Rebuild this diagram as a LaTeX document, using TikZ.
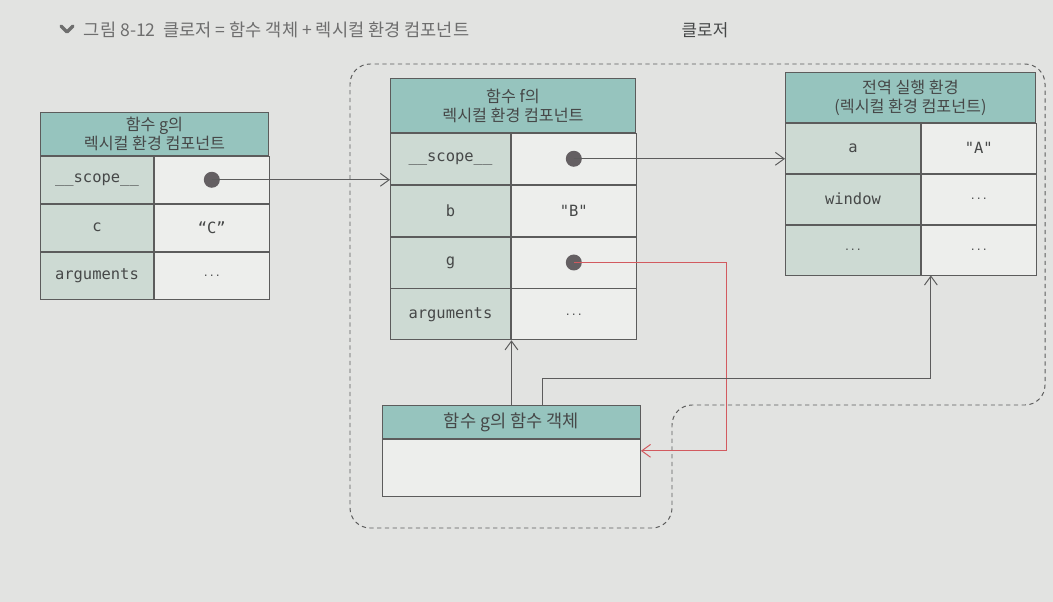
\documentclass[tikz,border=0pt]{standalone}
\usepackage{fontspec}
\usepackage{xcolor}
\usepackage{tikz}
\usetikzlibrary{arrows.meta,positioning,calc}
\setmainfont{Noto Sans CJK KR}
\newfontfamily\codefont{DejaVu Sans Mono}
\definecolor{ppaper}{RGB}{226,227,225}
\definecolor{phead}{RGB}{150,196,190}
\definecolor{pkey}{RGB}{205,218,211}
\definecolor{pval}{RGB}{237,238,236}
\definecolor{pline}{RGB}{92,92,92}
\definecolor{pred}{RGB}{210,90,95}
\definecolor{pdot}{RGB}{100,95,98}
\definecolor{ptext}{RGB}{70,72,72}
\definecolor{ptitle}{RGB}{110,110,110}
\newcommand{\hdrfont}{\fontsize{11.5}{13.5}\selectfont}
\newcommand{\keyfont}{\codefont\fontsize{11}{12}\selectfont}
\newcommand{\etc}{{\codefont\fontsize{7}{7}\selectfont ...}}
\tikzset{
  hdr/.style={draw=pline,fill=phead,line width=0.6pt,inner sep=0pt,
              align=center,font=\hdrfont,text=ptext,anchor=north west},
  keycell/.style={draw=pline,fill=pkey,line width=0.6pt,inner sep=0pt,
                  font=\keyfont,text=ptext,anchor=north west},
  valcell/.style={keycell,fill=pval},
  dot/.style={circle,fill=pdot,inner sep=0pt,minimum size=0.4cm},
  link/.style={-{Straight Barb[length=2.2mm,width=3.2mm]},pline,line width=0.7pt},
  redlink/.style={link,pred},
  closure/.style={draw=pline,dash pattern=on 3pt off 2.5pt,line width=0.7pt,
                  rounded corners=0.5cm},
}

\begin{document}
\begin{tikzpicture}[x=0.025cm,y=-0.025cm,
  gkey/.style={keycell,minimum width=2.825cm,minimum height=1.175cm},
  gval/.style={valcell,minimum width=2.875cm,minimum height=1.175cm},
  fkey/.style={keycell,minimum width=3cm,minimum height=1.275cm},
  fval/.style={valcell,minimum width=3.125cm,minimum height=1.275cm},
  ekey/.style={keycell,minimum width=3.375cm,minimum height=1.25cm},
  eval/.style={valcell,minimum width=2.875cm,minimum height=1.25cm}]
  \fill[ppaper] (0,0) rectangle (1053,602);
  % caption
  \draw[ptitle,line width=2.4pt,line cap=round,line join=round]
    (61,26) -- (67,32) -- (73,26);
  \node[anchor=west,font=\fontsize{12.5}{14}\selectfont,text=ptitle] (title) at (79,30)
    {그림 8-12\ \ 클로저 = 함수 객체 + 렉시컬 환경 컴포넌트};
  % closure outline
  \draw[closure] (350,300) -- (350,64) -- (1045,64) -- (1045,405)
    -- (672,405) -- (672,528) -- (350,528) -- cycle;
  \node[font=\fontsize{12}{14}\selectfont,text=ptext] (cllbl) at (705,30) {클로저};
  % lexical environment of g
  \node[hdr,minimum width=5.7cm,minimum height=1.075cm] (ghd) at (40,112)
    {함수 g의\\렉시컬 환경 컴포넌트};
  \node[gkey] (gk1) at (ghd.south west) {\_\_scope\_\_};
  \node[gval] (gv1) at (gk1.north east) {};
  \node[gkey] (gk2) at (gk1.south west) {c};
  \node[gval] (gv2) at (gk2.north east) {{\codefont “C”}};
  \node[gkey] (gk3) at (gk2.south west) {arguments};
  \node[gval] (gv3) at (gk3.north east) {\etc};
  \node[dot] (gdot) at (gv1.center) {};
  % lexical environment of f
  \node[hdr,minimum width=6.125cm,minimum height=1.35cm] (fhd) at (390,78)
    {함수 f의\\렉시컬 환경 컴포넌트};
  \node[fkey] (fk1) at (fhd.south west) {\_\_scope\_\_};
  \node[fval] (fv1) at (fk1.north east) {};
  \node[fkey] (fk2) at (fk1.south west) {b};
  \node[fval] (fv2) at (fk2.north east) {"B"};
  \node[fkey] (fk3) at (fk2.south west) {g};
  \node[fval] (fv3) at (fk3.north east) {};
  \node[fkey] (fk4) at (fk3.south west) {arguments};
  \node[fval] (fv4) at (fk4.north east) {\etc};
  \node[dot] (fdot1) at (fv1.center) {};
  \node[dot] (fdot3) at (fv3.center) {};
  % global environment
  \node[hdr,minimum width=6.25cm,minimum height=1.25cm] (ehd) at (785,72)
    {전역 실행 환경\\(렉시컬 환경 컴포넌트)};
  \node[ekey] (ek1) at (ehd.south west) {a};
  \node[eval] (ev1) at (ek1.north east) {"A"};
  \node[ekey] (ek2) at (ek1.south west) {window};
  \node[eval] (ev2) at (ek2.north east) {\etc};
  \node[ekey] (ek3) at (ek2.south west) {\etc};
  \node[eval] (ev3) at (ek3.north east) {\etc};
  % function object g
  \node[hdr,minimum width=6.45cm,minimum height=0.825cm,
        font=\fontsize{12.5}{14}\selectfont] (ohd) at (382,405) {함수 g의 함수 객체};
  \node[valcell,minimum width=6.45cm,minimum height=1.425cm] (obody) at (ohd.south west) {};
  % references
  \draw[link] (gdot.center) -- (gdot.center -| fk1.west);
  \draw[link] (fdot1.center) -- (fdot1.center -| ek1.west);
  \draw[redlink] (fdot3.center) -- ++(153,0) |- ([yshift=-0.3cm]obody.north east);
  \draw[link] (ohd.north) -- (ohd.north |- fk4.south);
  \coordinate (olnk) at (542,378);
  \draw[link] (ohd.north -| olnk) -- (olnk) -| ([xshift=0.25cm]ek3.south east);
\end{tikzpicture}
\end{document}
